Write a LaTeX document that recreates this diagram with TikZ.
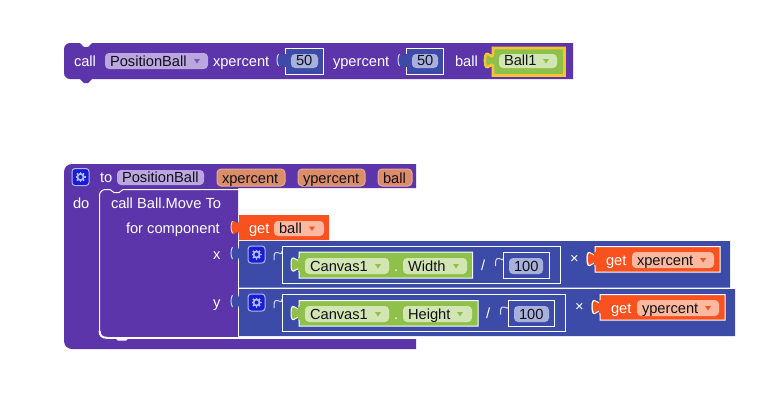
\documentclass[tikz,border=0pt]{standalone}
\usepackage{fontspec}
\setmainfont{Liberation Sans}
\definecolor{purp}{HTML}{5C35AA}
\definecolor{blu}{HTML}{3C4BA8}
\definecolor{orng}{HTML}{F9521E}
\definecolor{grn}{HTML}{8FC14A}
\definecolor{plpurp}{HTML}{BBA6E0}
\definecolor{plblu}{HTML}{A8B0DC}
\definecolor{plgrn}{HTML}{D2E6B4}
\definecolor{plorng}{HTML}{FDB8A0}
\definecolor{plarg}{HTML}{DB8C68}
\definecolor{edarg}{HTML}{E8AC90}
\definecolor{yel}{HTML}{F5C431}
\definecolor{gearbg}{HTML}{1C1CD8}
\definecolor{gearfg}{HTML}{AEBBF0}
\definecolor{dk}{HTML}{101018}
\tikzset{
  wtxt/.style={inner sep=0pt,outer sep=0pt,anchor=base west,text=white,font=\fontsize{14.67}{16}\selectfont},
  dtxt/.style={wtxt,text=dk},
  outl/.style={draw=white,line width=1pt},
  pillpur/.style={fill=plpurp},
  pillblu/.style={fill=plblu},
  pillgrn/.style={fill=plgrn},
  pillorg/.style={fill=plorng},
  pillarg/.style={fill=plarg,draw=edarg,line width=1pt}
}
% name x1 y1 x2 y2 style text
\newcommand\bpill[7]{%
  \path[#6,rounded corners=4pt] (#2,#3) rectangle (#4,#5);
  \node[dtxt] (#1) at (#2+5,#5-3) {#7};}
% centre-x centre-y colour
\newcommand\btri[3]{\fill[#3] (#1-3,#2-2) -- (#1+3,#2-2) -- (#1,#2+2.5) -- cycle;}
% the puzzle tab, as a path fragment, from (x,y) down to (x,y+15)
\newcommand\tabcurve[2]{(#1,#2) .. controls (#1,#2+10) and (#1-8,#2-8) .. (#1-8,#2+7.5) .. controls (#1-8,#2+23) and (#1,#2+5) .. (#1,#2+15)}
% x1 y1 x2 y2 path-options
\newcommand\tabblock[5]{\path[#5] (#1,#2) -- \tabcurve{#1}{#2+5} -- (#1,#4) -- (#3,#4) -- (#3,#2) -- cycle;}
% highlight on the left of a tab over a darker block: x = tab root, y = tab top
\newcommand\sockarc[2]{\draw[white,opacity=.75,line width=1pt] (#1-6.5,#2+1) .. controls (#1-8.5,#2+4) and (#1-8.5,#2+10) .. (#1-6.5,#2+13);}
\newcommand\sockhook[2]{\draw[white,opacity=.8,line width=1pt] (#1,#2) .. controls (#1,#2+8) and (#1-8,#2-6) .. (#1-8,#2+7.5) -- (#1-8,#2+9);}
\newcommand\gearicon[2]{%
  \path[fill=gearbg,draw=gearfg,line width=1pt,rounded corners=3pt] (#1,#2) rectangle (#1+17,#2+17);
  \foreach \a in {0,45,...,315}{\draw[gearfg,line width=1.6pt] ({#1+8.5+3.4*cos(\a)},{#2+8.5+3.4*sin(\a)}) -- ({#1+8.5+5*cos(\a)},{#2+8.5+5*sin(\a)});}
  \draw[gearfg,line width=1.8pt] (#1+8.5,#2+8.5) circle[radius=3.1];}
\begin{document}
\begin{tikzpicture}[x=1pt,y=-1pt]
\useasboundingbox (0,0) rectangle (782,416);
\fill[white] (0,0) rectangle (782,416);

%% ---- call block ----
\fill[purp] (573,43) -- (92,43) -- (88,47) -- (84,47) -- (80,43) [rounded corners=6pt] -- (64,43) -- (64,79) [sharp corners] -- (80,79) -- (84,83) -- (88,83) -- (92,79) -- (573,79) -- cycle;
\node[wtxt] (tcall) at (74,66) {call};
\bpill{pcall}{105}{53}{208}{69}{pillpur}{PositionBall}
\btri{197}{61}{purp!70!plpurp}
\node[wtxt] (txp) at (213,66) {xpercent};
\tabblock{285}{48}{323}{74}{fill=blu}
\draw[outl] (285,48) rectangle (323,74);
\fill[blu] (284,54) rectangle (286,67);
\sockarc{285}{53}
\bpill{n50a}{291}{54}{318}{68}{pillblu}{50}
\node[wtxt] (typ) at (333,66) {ypercent};
\tabblock{406}{48}{443}{74}{fill=blu}
\draw[outl] (406,48) rectangle (443,74);
\fill[blu] (405,54) rectangle (407,67);
\sockarc{406}{53}
\bpill{n50b}{412}{54}{438}{68}{pillblu}{50}
\node[wtxt] (tbl) at (455,66) {ball};
\tabblock{493}{48}{564.5}{75.5}{fill=grn,draw=yel,line width=2.6pt}
\bpill{pball}{499}{54}{557}{68}{pillgrn}{Ball1}
\btri{546}{61}{grn}

%% ---- procedure block ----
\fill[purp] (416,164) [rounded corners=8pt] -- (64,164) -- (64,349) [sharp corners] -- (416,349) -- (416,339) -- (238,339) -- (238,188) -- (416,188) -- cycle;
\draw[white,line width=1pt] (238,189.5) -- (123,189.5) -- (119,192.5) -- (114,192.5) -- (110,189.5) [rounded corners=6pt] -- (99.5,189.5) -- (99.5,331);
\fill[white] (106,336.7) rectangle (416,339);
\draw[white,line width=2pt] (99.6,331) .. controls (99.6,335.5) and (102,337.8) .. (107,337.8);
\fill[white] (115,338) -- (118,340.5) -- (126,340.5) -- (129,338) -- cycle;
\gearicon{72}{168.5}
\node[wtxt] (tto) at (100,182) {to};
\bpill{pto}{117}{170}{204}{185}{pillpur}{PositionBall}
\bpill{ax}{217}{169}{285}{186}{pillarg}{xpercent}
\bpill{ay}{298}{169}{365}{186}{pillarg}{ypercent}
\bpill{ab}{378}{169}{412}{186}{pillarg}{ball}
\node[wtxt] (tdo) at (73,208) {do};
\node[wtxt] (tmove) at (111,208) {call Ball.Move To};
\node[wtxt] (tfor) at (126,233) {for component};
\node[wtxt] (tx) at (213,259) {x};
\node[wtxt] (ty) at (213,307) {y};

%% get ball
\tabblock{239}{215}{329}{240}{fill=orng}
\sockarc{239}{220}
\node[wtxt] (tgetb) at (249,233) {get};
\bpill{gb}{274}{221}{324}{236}{pillorg}{ball}
\btri{312}{228.5}{orng}

%% blue arithmetic blocks
\fill[white] (238,241) rectangle (239,336);
\tabblock{239}{241}{730}{287.7}{fill=blu}
\tabblock{239}{289}{735}{336}{fill=blu}
\sockarc{239}{246}
\sockarc{239}{294}
\gearicon{248}{246}
\gearicon{248}{294}

%% x row
\draw[outl] (282,246.5) rectangle (560.5,283);
\sockhook{282}{251}
\tabblock{299}{252}{472.5}{278}{fill=grn,draw=white,line width=1pt}
\fill[grn] (298,258) rectangle (300,271);
\bpill{cw}{305}{258}{389}{274}{pillgrn}{Canvas1}
\btri{378}{266}{grn}
\node[wtxt] (dw) at (394,271) {.};
\bpill{wd}{403}{258}{467}{274}{pillgrn}{Width}
\btri{456}{266}{grn}
\node[wtxt] (sx) at (481,270) {/};
\draw[outl] (503.5,252) rectangle (549,278);
\sockhook{503.5}{257}
\bpill{hx}{509}{258}{543}{274}{pillblu}{100}
\node[wtxt] (mx) at (570,263) {×};
\tabblock{595}{246.5}{720}{272}{fill=orng,draw=white,line width=1pt}
\fill[orng] (594,252) rectangle (596,265);
\sockarc{595}{251.5}
\node[wtxt] (tgx) at (606,265) {get};
\bpill{gx}{632}{252}{714}{268}{pillorg}{xpercent}
\btri{703}{260}{orng}

%% y row
\draw[outl] (282,294.5) rectangle (565.5,331.5);
\sockhook{282}{299}
\tabblock{299}{300.5}{478}{326}{fill=grn,draw=white,line width=1pt}
\fill[grn] (298,306.5) rectangle (300,319.5);
\bpill{ch}{305}{306}{389}{322}{pillgrn}{Canvas1}
\btri{378}{314}{grn}
\node[wtxt] (dh) at (394,319) {.};
\bpill{hg}{403}{306}{472}{322}{pillgrn}{Height}
\btri{460}{314}{grn}
\node[wtxt] (sy) at (486,318) {/};
\draw[outl] (508.5,300.5) rectangle (554,326);
\sockhook{508.5}{305.5}
\bpill{hy}{514}{306}{549}{322}{pillblu}{100}
\node[wtxt] (my) at (575,311) {×};
\tabblock{600}{294.5}{725}{320}{fill=orng,draw=white,line width=1pt}
\fill[orng] (599,300) rectangle (601,313);
\sockarc{600}{299.5}
\node[wtxt] (tgy) at (611,313) {get};
\bpill{gy}{637}{300}{719}{316}{pillorg}{ypercent}
\btri{708}{308}{orng}
\end{tikzpicture}
\end{document}
